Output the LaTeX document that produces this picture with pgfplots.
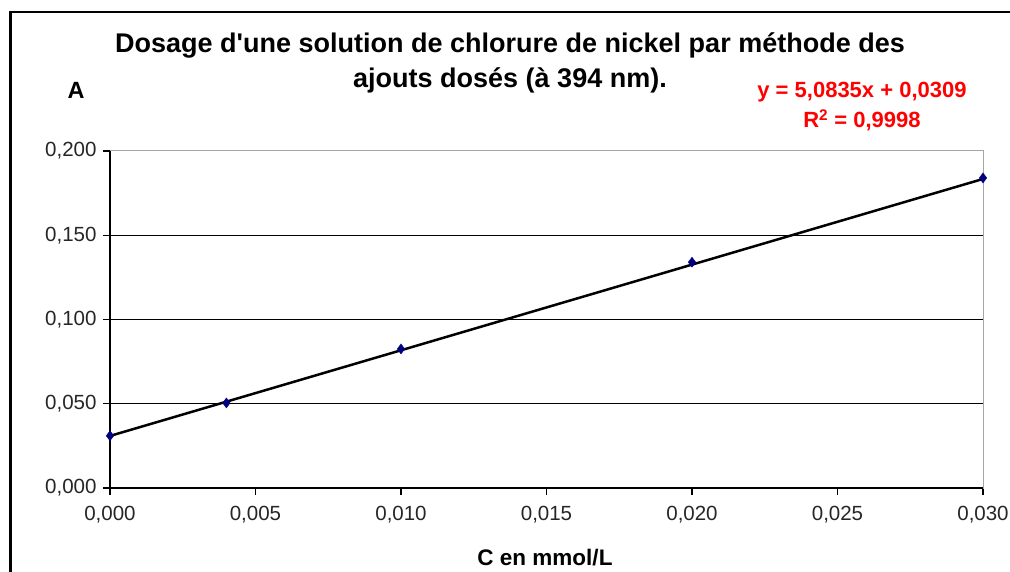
\documentclass[border=0pt]{standalone}
\usepackage{pgfplots}
\pgfplotsset{compat=1.18}
\usepackage{fontspec}
\setmainfont{Liberation Sans}
\definecolor{navy}{RGB}{0,0,128}
\definecolor{exred}{RGB}{255,0,0}
\begin{document}
\begin{tikzpicture}[x=1pt,y=1pt]
\useasboundingbox (0,0) rectangle (1010,571);
\begin{scope}
\clip (0,0) rectangle (1010,571);
\draw[line width=2.5pt] (10.5,-5) -- (10.5,559) -- (1015,559);
\end{scope}
\begin{axis}[
  at={(110pt,83pt)}, anchor=south west,
  scale only axis, width=873pt, height=337pt,
  xmin=0, xmax=0.03, ymin=0, ymax=0.2,
  xtick={0,0.005,0.01,0.015,0.02,0.025,0.03},
  ytick={0,0.05,0.1,0.15,0.2},
  tick pos=left, tick align=outside, major tick length=7pt,
  tick style={black, line width=1.2pt},
  scaled ticks=false,
  /pgf/number format/.cd, fixed, fixed zerofill, precision=3, use comma, assume math mode=true,
  /pgfplots/.cd,
  ticklabel style={font=\fontsize{20.5}{20.5}\selectfont, color=black!85},
  xticklabel style={yshift=-8pt},
  yticklabel style={xshift=-3pt},
  axis line style={gray!70, line width=1pt},
  extra y ticks={0.05,0.1,0.15}, extra y tick labels={},
  extra y tick style={grid=major, major tick length=0pt},
  major grid style={black, line width=1.3pt},
  clip=false
]
\addplot[black, line width=2.5pt] coordinates {(0,0.0309) (0.03,0.183405)};
\addplot[only marks, mark=diamond*, mark size=5pt, color=navy] coordinates {(0,0.031) (0.004,0.0505) (0.010,0.0825) (0.020,0.134) (0.030,0.184)};
\draw[black, line width=1.3pt] (rel axis cs:0,0) -- (rel axis cs:1,0);
\draw[black, line width=1.3pt] (rel axis cs:0,0) -- (rel axis cs:0,1);
\end{axis}
\node[align=center, font=\fontsize{27}{35}\selectfont\bfseries] at (510,508) {Dosage d\textquotesingle une solution de chlorure de nickel par méthode des\\ajouts dosés (à 394 nm).};
\node[font=\fontsize{23.5}{23.5}\selectfont\bfseries] at (76,481) {A};
\node[align=center, text=exred, font=\fontsize{22}{30}\selectfont\bfseries] at (862,464) {y = 5,0835x + 0,0309\\R\textsuperscript{2} = 0,9998};
\node[font=\fontsize{22.5}{22.5}\selectfont\bfseries] at (545,13) {C en mmol/L};
\end{tikzpicture}
\end{document}
